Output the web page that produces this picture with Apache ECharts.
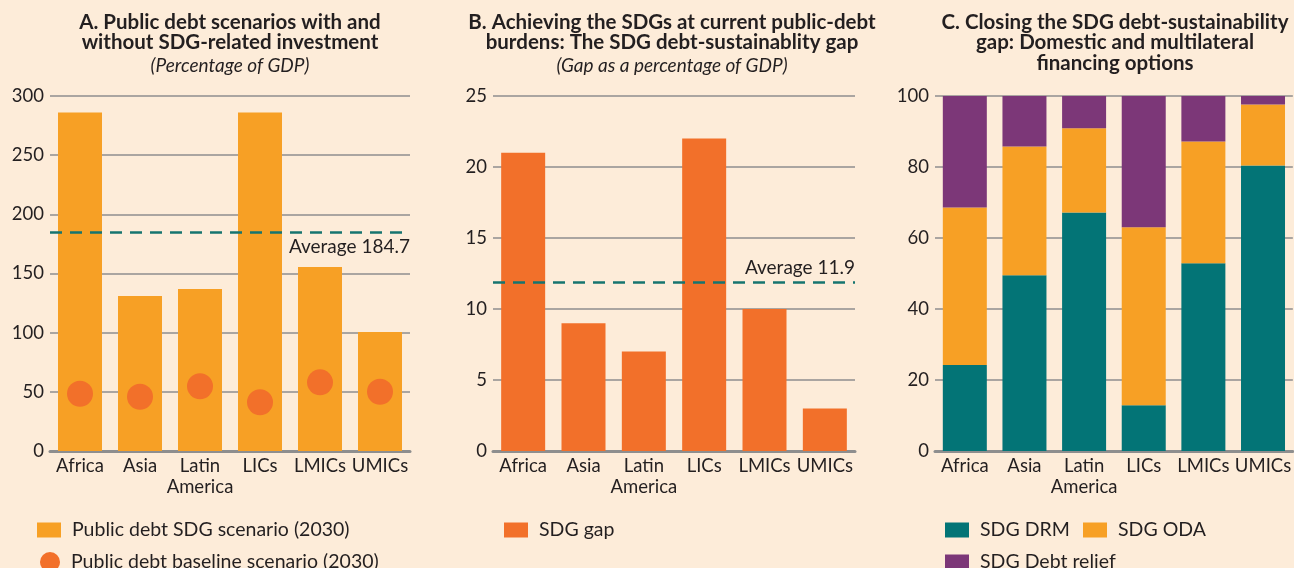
<!DOCTYPE html>
<html>
<head>
<meta charset="utf-8">
<title>SDG debt scenarios</title>
<script src="https://cdn.jsdelivr.net/npm/echarts@6/dist/echarts.min.js"></script>
<style>
  html, body { margin: 0; padding: 0; background: #FDECD9; }
  #chart { width: 1294px; height: 568px; }
</style>
</head>
<body>
<div id="chart"></div>
<script>
// Country groups shared by all three panels
const categories = ['Africa', 'Asia', 'Latin\nAmerica', 'LICs', 'LMICs', 'UMICs'];

// Panel A: public debt, % of GDP
const debtSdgScenario = [286, 131, 137, 286, 155.5, 100.6];
const debtBaselineScenario = [48.4, 45.9, 54.7, 41.2, 58, 50.1];
const debtAverage = 184.7;

// Panel B: SDG debt-sustainability gap, % of GDP
const sdgGap = [21, 9, 7, 22, 10, 3];
const gapAverage = 11.9;

// Panel C: shares of financing options, %
const sdgDrm = [24.2, 49.5, 67.2, 12.9, 52.9, 80.4];
const sdgOda = [44.4, 36.3, 23.7, 50.1, 34.3, 17.2];
const sdgDebtRelief = [31.4, 14.2, 9.1, 37.0, 12.8, 2.4];

// Axis tick settings
const yTicksA = { min: 0, max: 300, interval: 50 };
const yTicksB = { min: 0, max: 25, interval: 5 };
const yTicksC = { min: 0, max: 100, interval: 20 };

// Panel headings
const titleA = 'A. Public debt scenarios with and\nwithout SDG-related investment';
const subtitleA = '(Percentage of GDP)';
const titleB = 'B. Achieving the SDGs at current public-debt\nburdens: The SDG debt-sustainablity gap';
const subtitleB = '(Gap as a percentage of GDP)';
const titleC = 'C. Closing the SDG debt-sustainability\ngap: Domestic and multilateral\nfinancing options';

const FONT = 'Lato';
const INK = '#231F20';
const GRID_GRAY = '#8E8E8E';
const ORANGE = '#F7A025';
const DARK_ORANGE = '#F2702A';
const TEAL = '#037476';
const PURPLE = '#7C3778';
const DASH_TEAL = '#16746F';

const chart = echarts.init(document.getElementById('chart'), null, { renderer: 'canvas' });

function xAxisFor(gridIndex) {
  return {
    type: 'category',
    gridIndex: gridIndex,
    data: categories,
    axisTick: { show: false },
    axisLine: { show: true, lineStyle: { color: GRID_GRAY, width: 3 } },
    axisLabel: {
      interval: 0, margin: 5, color: INK, fontFamily: FONT, fontSize: 18.5, lineHeight: 21
    }
  };
}

function yAxisFor(gridIndex, ticks) {
  return {
    type: 'value',
    gridIndex: gridIndex,
    min: ticks.min, max: ticks.max, interval: ticks.interval,
    axisLine: { show: false },
    axisTick: { show: false },
    axisLabel: { margin: 6, color: INK, fontFamily: FONT, fontSize: 18.5 },
    splitLine: { show: true, lineStyle: { color: GRID_GRAY, width: 1.5 } }
  };
}

// Centered heading text placed on the canvas
function heading(x, y, text) {
  return {
    type: 'text', x: x, y: y, silent: true,
    style: {
      text: text, align: 'center', verticalAlign: 'top',
      font: 'bold 20.5px ' + FONT, fill: INK, lineHeight: 20.5
    }
  };
}

function subheading(x, y, text) {
  return {
    type: 'text', x: x, y: y, silent: true,
    style: {
      text: text, align: 'center', verticalAlign: 'top',
      font: 'italic 19px ' + FONT, fill: INK
    }
  };
}

function legendAt(left, top, name, icon, w, h) {
  return {
    left: left, top: top, data: [{ name: name, icon: icon }],
    itemWidth: w, itemHeight: h, selectedMode: false,
    textStyle: { fontFamily: FONT, fontSize: 19.5, color: INK, padding: [0, 0, 0, 6] }
  };
}

function averageLine(value, text, position) {
  return {
    silent: true,
    symbol: ['none', 'none'],
    lineStyle: { color: DASH_TEAL, type: [12, 8], width: 2.5 },
    label: {
      show: true, position: position, formatter: text, distance: [0, 5],
      color: INK, fontFamily: FONT, fontSize: 19
    },
    data: [{ yAxis: value }]
  };
}

const option = {
  backgroundColor: '#FDECD9',
  animation: false,
  graphic: [
    heading(230, 12, titleA),
    subheading(230, 56, subtitleA),
    heading(672, 12, titleB),
    subheading(672, 56, subtitleB),
    heading(1115, 12, titleC)
  ],
  legend: [
    legendAt(32, 515, 'Public debt SDG scenario (2030)', 'rect', 24, 15),
    legendAt(35, 547, 'Public debt baseline scenario (2030)', 'circle', 20, 20),
    legendAt(499, 515, 'SDG gap', 'rect', 24, 15),
    legendAt(940, 515, 'SDG DRM', 'rect', 24, 15),
    legendAt(1078, 515, 'SDG ODA', 'rect', 24, 15),
    legendAt(940, 547, 'SDG Debt relief', 'rect', 24, 15)
  ],
  grid: [
    { left: 50, width: 360, top: 96, bottom: 117 },
    { left: 493, width: 362, top: 96, bottom: 117 },
    { left: 935, width: 360, top: 96, bottom: 117 }
  ],
  xAxis: [xAxisFor(0), xAxisFor(1), xAxisFor(2)],
  yAxis: [yAxisFor(0, yTicksA), yAxisFor(1, yTicksB), yAxisFor(2, yTicksC)],
  series: [
    {
      name: 'Public debt SDG scenario (2030)', type: 'bar',
      xAxisIndex: 0, yAxisIndex: 0, barWidth: 44,
      itemStyle: { color: ORANGE }, data: debtSdgScenario,
      markLine: averageLine(debtAverage, 'Average ' + debtAverage, 'insideEndBottom'),
      z: 2
    },
    {
      name: 'Public debt baseline scenario (2030)', type: 'scatter',
      xAxisIndex: 0, yAxisIndex: 0, symbol: 'circle', symbolSize: 26,
      itemStyle: { color: DARK_ORANGE, opacity: 1 }, data: debtBaselineScenario, z: 3
    },
    {
      name: 'SDG gap', type: 'bar',
      xAxisIndex: 1, yAxisIndex: 1, barWidth: 44,
      itemStyle: { color: DARK_ORANGE }, data: sdgGap,
      markLine: averageLine(gapAverage, 'Average ' + gapAverage, 'insideEndTop')
    },
    {
      name: 'SDG DRM', type: 'bar', stack: 'financing',
      xAxisIndex: 2, yAxisIndex: 2, barWidth: 44,
      itemStyle: { color: TEAL }, data: sdgDrm
    },
    {
      name: 'SDG ODA', type: 'bar', stack: 'financing',
      xAxisIndex: 2, yAxisIndex: 2, barWidth: 44,
      itemStyle: { color: ORANGE }, data: sdgOda
    },
    {
      name: 'SDG Debt relief', type: 'bar', stack: 'financing',
      xAxisIndex: 2, yAxisIndex: 2, barWidth: 44,
      itemStyle: { color: PURPLE }, data: sdgDebtRelief
    }
  ]
};

chart.setOption(option);
</script>
</body>
</html>
